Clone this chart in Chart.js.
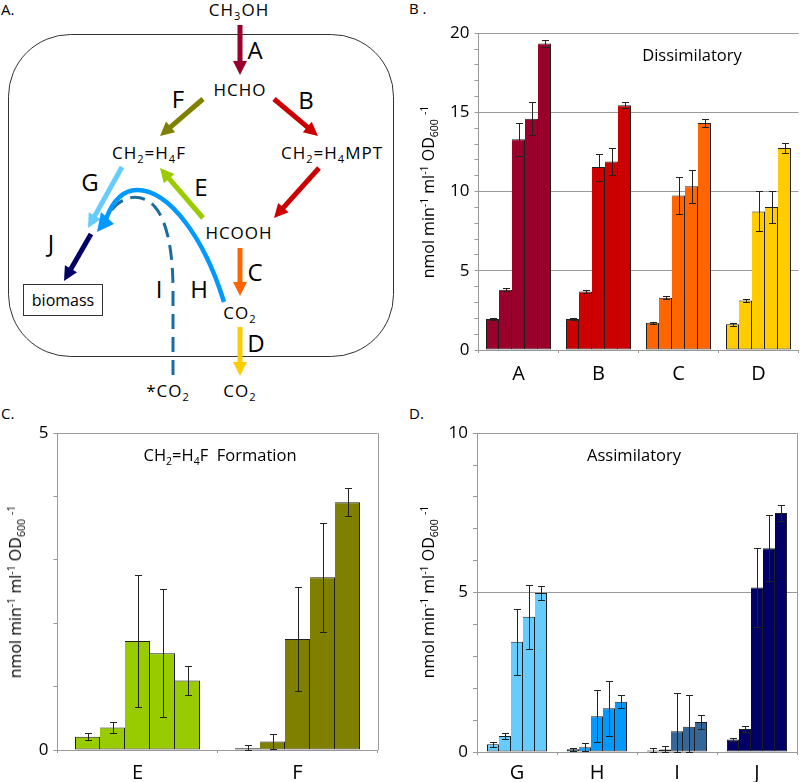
<!DOCTYPE html>
<html>
<head>
<meta charset="utf-8">
<title>Methanol flux</title>
<script src="https://cdn.jsdelivr.net/npm/chart.js@4"></script>
<style>
  html, body { margin: 0; padding: 0; background: #fff; }
  body { width: 800px; height: 782px; position: relative; overflow: hidden; font-family: "Open Sans", sans-serif; color: #000; }
  canvas { position: absolute; }
  #scheme { position: absolute; left: 0; top: 0; }
  #scheme text { font-family: "Open Sans", sans-serif; fill: #000; }
  .tag { position: absolute; font-size: 15px; line-height: 16px; }
  .cap { position: absolute; font-size: 16.5px; line-height: 18px; white-space: nowrap; transform: translateX(-50%); }
  .ylab { position: absolute; font-size: 16px; line-height: 18px; white-space: nowrap; transform: translate(-50%, -50%) rotate(-90deg); }
  sub, sup { font-size: 10.5px; line-height: 0; }
</style>
</head>
<body>

<svg id="scheme" width="400" height="405"></svg>

<div class="tag" style="left:1px;top:1px">A.</div>
<div class="tag" style="left:409px;top:0px">B .</div>
<div class="tag" style="left:1px;top:405px">C.</div>
<div class="tag" style="left:409px;top:405px">D.</div>

<canvas id="chartB"></canvas>
<canvas id="chartC"></canvas>
<canvas id="chartD"></canvas>

<div class="cap" style="left:692px;top:46px">Dissimilatory</div>
<div class="cap" style="left:220px;top:446px">CH<sub>2</sub>=H<sub>4</sub>F&nbsp; Formation</div>
<div class="cap" style="left:634px;top:446px">Assimilatory</div>

<div class="ylab" style="left:428px;top:192px">nmol min<sup>-1</sup> ml<sup>-1</sup> OD<sub>600</sub> <sup>-1</sup></div>
<div class="ylab" style="left:15px;top:592px">nmol min<sup>-1</sup> ml<sup>-1</sup> OD<sub>600</sub> <sup>-1</sup></div>
<div class="ylab" style="left:428px;top:592px">nmol min<sup>-1</sup> ml<sup>-1</sup> OD<sub>600</sub> <sup>-1</sup></div>

<script>
'use strict';

// panel B, one row per reaction
let bLabels = ['A', 'B', 'C', 'D'];
let bValues = [
  [1.95, 3.8, 13.3, 14.6, 19.35],
  [1.95, 3.7, 11.55, 11.9, 15.45],
  [1.72, 3.3, 9.75, 10.33, 14.33],
  [1.63, 3.13, 8.75, 9.02, 12.76]
];
let bErrors = [
  [0.05, 0.1, 1.05, 1.03, 0.25],
  [0.07, 0.1, 0.85, 0.85, 0.2],
  [0.05, 0.1, 1.18, 1.02, 0.25],
  [0.1, 0.08, 1.26, 1.03, 0.3]
];
let bColors = ['#99002b', '#cc0000', '#ff6600', '#ffcc00'];
let bTicks = [0, 5, 10, 15, 20];

// panel C
let cLabels = ['E', 'F'];
let cValues = [
  [0.21, 0.356, 1.72, 1.527, 1.098],
  [0.026, 0.136, 1.752, 2.725, 3.912]
];
let cErrors = [
  [0.06, 0.09, 1.035, 1.01, 0.235],
  [0.05, 0.12, 0.82, 0.865, 0.225]
];
let cColors = ['#99cc00', '#808000'];
let cTicks = [0, 5];

// panel D
let dLabels = ['G', 'H', 'I', 'J'];
let dValues = [
  [0.24, 0.5, 3.46, 4.24, 4.99],
  [0.09, 0.15, 1.12, 1.37, 1.58],
  [0.05, 0.08, 0.65, 0.79, 0.94],
  [0.39, 0.72, 5.16, 6.39, 7.5]
];
let dErrors = [
  [0.08, 0.09, 1.03, 1.0, 0.23],
  [0.05, 0.12, 0.81, 0.86, 0.21],
  [0.06, 0.1, 1.19, 0.99, 0.23],
  [0.06, 0.1, 1.23, 1.03, 0.24]
];
let dColors = ['#66ccff', '#0099ff', '#336699', '#000066'];
let dTicks = [0, 5, 10];

let gridColor = '#999999';

// error bars are not part of Chart.js, so draw them after the bars
let errorBars = {
  id: 'errorBars',
  afterDatasetsDraw(chart, args, opts) {
    let ctx = chart.ctx;
    let yScale = chart.scales.y;
    ctx.save();
    ctx.strokeStyle = '#222222';
    ctx.lineWidth = 1;
    chart.data.datasets.forEach(function (ds, i) {
      let meta = chart.getDatasetMeta(i);
      meta.data.forEach(function (bar, j) {
        let value = ds.data[j];
        let err = opts.errors[j][i];
        let x = Math.round(bar.x) + 0.5;
        let top = Math.round(yScale.getPixelForValue(value + err)) + 0.5;
        let low = Math.round(yScale.getPixelForValue(Math.max(0, value - err))) + 0.5;
        ctx.beginPath();
        ctx.moveTo(x, top);
        ctx.lineTo(x, low);
        ctx.moveTo(x - 3.5, top);
        ctx.lineTo(x + 3.5, top);
        ctx.moveTo(x - 3.5, low);
        ctx.lineTo(x + 3.5, low);
        ctx.stroke();
      });
    });
    ctx.restore();
  }
};

// panels C and D are closed on the right
let rightEdge = {
  id: 'rightEdge',
  beforeDatasetsDraw(chart, args, opts) {
    if (!opts.show) return;
    let a = chart.chartArea;
    let ctx = chart.ctx;
    ctx.save();
    ctx.strokeStyle = gridColor;
    ctx.lineWidth = 1;
    ctx.beginPath();
    ctx.moveTo(Math.round(a.right) + 0.5, a.top);
    ctx.lineTo(Math.round(a.right) + 0.5, a.bottom);
    ctx.stroke();
    ctx.restore();
  }
};

function makePanel(id, box, labels, values, errors, colors, ticks, yMax, groupWidth, frame) {
  let el = document.getElementById(id);
  el.style.left = box.left + 'px';
  el.style.top = box.top + 'px';
  el.width = box.width;
  el.height = box.height;

  let datasets = [];
  for (let i = 0; i < values[0].length; i++) {
    datasets.push({
      data: values.map(function (row) { return row[i]; }),
      backgroundColor: colors,
      borderColor: '#1f1f1f',
      borderWidth: 1,
      // neighbours touch, so only the first bar of a group keeps its left edge
      borderSkipped: i > 0 ? 'left' : false
    });
  }

  return new Chart(el, {
    type: 'bar',
    data: { labels: labels, datasets: datasets },
    plugins: [errorBars, rightEdge],
    options: {
      responsive: false,
      animation: false,
      events: [],
      layout: { padding: { top: 10, right: box.padRight, left: 0, bottom: 0 } },
      datasets: { bar: { categoryPercentage: groupWidth, barPercentage: 1 } },
      plugins: {
        legend: { display: false },
        tooltip: { enabled: false },
        errorBars: { errors: errors },
        rightEdge: { show: frame }
      },
      scales: {
        x: {
          afterFit(scale) { scale.height = box.xHeight; },
          grid: { drawOnChartArea: false, color: gridColor, tickLength: 3 },
          border: { color: gridColor },
          ticks: {
            color: '#000',
            font: { family: '"Open Sans"', size: 20 },
            maxRotation: 0,
            padding: box.labelPad
          }
        },
        y: {
          min: 0,
          max: yMax,
          afterFit(scale) { scale.width = box.yWidth; },
          grid: {
            tickLength: 4,
            color(c) { return ticks.includes(c.tick.value) ? gridColor : 'rgba(0,0,0,0)'; },
            tickColor: gridColor
          },
          border: { color: gridColor },
          afterBuildTicks(scale) {
            let list = [];
            for (let v = 0; v <= yMax; v++) list.push({ value: v });
            scale.ticks = list;
          },
          ticks: {
            autoSkip: false,
            color: '#000',
            font: { family: '"Open Sans"', size: 17 },
            padding: 5,
            callback(v) { return ticks.includes(v) ? String(v) : ''; }
          }
        }
      }
    }
  });
}

makePanel('chartB', { left: 440, top: 18, width: 360, height: 374, padRight: 1.5, yWidth: 38.5, xHeight: 42, labelPad: 9 },
  bLabels, bValues, bErrors, bColors, bTicks, 20, 0.8125, false);
makePanel('chartC', { left: 20, top: 418, width: 362, height: 364, padRight: 4.5, yWidth: 37.5, xHeight: 32, labelPad: 8 },
  cLabels, cValues, cErrors, cColors, cTicks, 5, 0.78125, true);
makePanel('chartD', { left: 440, top: 418, width: 360, height: 364, padRight: 3, yWidth: 37, xHeight: 30, labelPad: 6 },
  dLabels, dValues, dErrors, dColors, dTicks, 10, 0.75, true);

// pathway scheme in panel A
let svgNS = 'http://www.w3.org/2000/svg';
let svg = document.getElementById('scheme');

function addEl(name, attrs, parent) {
  let e = document.createElementNS(svgNS, name);
  for (let k in attrs) e.setAttribute(k, attrs[k]);
  (parent || svg).appendChild(e);
  return e;
}

function arrow(x1, y1, x2, y2, color) {
  let len = Math.hypot(x2 - x1, y2 - y1);
  let ux = (x2 - x1) / len;
  let uy = (y2 - y1) / len;
  let bx = x2 - ux * 14;
  let by = y2 - uy * 14;
  addEl('line', { x1: x1, y1: y1, x2: bx + ux, y2: by + uy, stroke: color, 'stroke-width': 5 });
  addEl('polygon', {
    points: x2 + ',' + y2 + ' ' + (bx - uy * 7) + ',' + (by + ux * 7) + ' ' + (bx + uy * 7) + ',' + (by - ux * 7),
    fill: color
  });
}

// parts are written one after the other, a lone digit is a subscript
function chem(cx, y, parts, size) {
  let t = addEl('text', { x: cx, y: y, 'text-anchor': 'middle', 'font-size': size, 'letter-spacing': 1 });
  let shift = 0;
  parts.forEach(function (p) {
    let isSub = /^\d$/.test(p);
    let span = addEl('tspan', { dy: (isSub ? 4 : 0) - shift }, t);
    if (isSub) span.setAttribute('font-size', size * 0.65);
    span.textContent = p;
    shift = isSub ? 4 : 0;
  });
}

function letter(cx, cy, s) {
  let t = addEl('text', { x: cx, y: cy + 8.5, 'text-anchor': 'middle', 'font-size': 24 });
  t.textContent = s;
}

addEl('rect', { x: 8.5, y: 34.5, width: 385, height: 322, rx: 62, ry: 62, fill: 'none', stroke: '#333', 'stroke-width': 1 });

arrow(240, 25, 240, 75, '#99002b');
arrow(203, 99, 160, 136, '#808000');
arrow(274, 99, 318, 136, '#cc0000');
arrow(319, 168, 274, 218, '#cc0000');
arrow(203, 218, 160, 168, '#99cc00');
arrow(122, 167, 88, 228, '#66ccff');
arrow(91, 234, 64, 281, '#000066');
arrow(240, 248, 240, 296, '#ff6600');
arrow(240, 327, 240, 376, '#ffcc00');

addEl('path', {
  d: 'M173 375 L173 290 C173 255 168 222 155 207 C145 195 122 190 107 217',
  fill: 'none', stroke: '#1a6d9e', 'stroke-width': 3, 'stroke-dasharray': '15 8'
});
addEl('path', {
  d: 'M224 302 C205 240 170 190 137 190 C122 190 112 203 106 219',
  fill: 'none', stroke: '#0099ff', 'stroke-width': 4.5
});
addEl('polygon', { points: '97,232 101,212 114,224', fill: '#0099ff' });

addEl('rect', { x: 23.5, y: 284.5, width: 79, height: 31, fill: '#fff', stroke: '#333', 'stroke-width': 1 });
let bio = addEl('text', { x: 63, y: 306, 'text-anchor': 'middle', 'font-size': 16 });
bio.textContent = 'biomass';

chem(239, 16, ['CH', '3', 'OH'], 17);
chem(240, 96, ['HCHO'], 17);
chem(149, 159, ['CH', '2', '=H', '4', 'F'], 17);
chem(332, 159, ['CH', '2', '=H', '4', 'MPT'], 17);
chem(239, 239, ['HCOOH'], 17);
chem(240, 319, ['CO', '2'], 17);
chem(168, 397, ['*CO', '2'], 17);
chem(240, 397, ['CO', '2'], 17);

letter(255, 50, 'A');
letter(306, 100, 'B');
letter(178, 99, 'F');
letter(201, 187, 'E');
letter(90, 182, 'G');
letter(51, 243, 'J');
letter(159, 289, 'I');
letter(199, 289, 'H');
letter(255, 272, 'C');
letter(256, 343, 'D');
</script>
</body>
</html>
